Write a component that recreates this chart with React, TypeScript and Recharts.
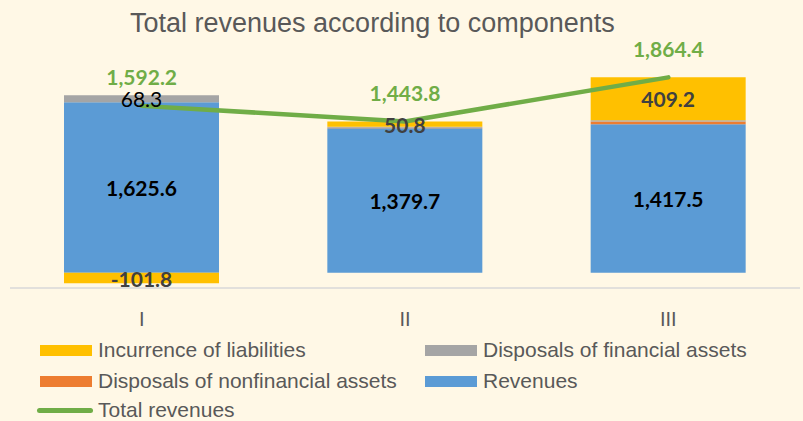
import { ComposedChart, Bar, Line, XAxis, YAxis, LabelList } from "recharts";

const categories = ["I", "II", "III"];
const revenues = [1625.6, 1379.7, 1417.5];
const nonfinancialDisposals = [0.1, 3.3, 24.6];
const financialDisposals = [68.3, 10.0, 13.1];
const liabilities = [-101.8, 50.8, 409.2];
const totalRevenues = [1592.2, 1443.8, 1864.4];

const BG = "#FFF8E6";
const TEXT = "#595959";
const COLORS = {
  liabilities: "#FFC000",
  financial: "#A5A5A5",
  nonfinancial: "#ED7D31",
  revenues: "#5B9BD5",
  total: "#70AD47",
};

const data = categories.map((name, i) => ({
  name,
  revenues: revenues[i],
  nonfinancial: nonfinancialDisposals[i],
  financial: financialDisposals[i],
  liabilities: liabilities[i],
  total: totalRevenues[i],
}));

const fmt = (v: any) =>
  Number(v).toLocaleString("en-US", { minimumFractionDigits: 1, maximumFractionDigits: 1 });

const labelFont = "Lato, 'Liberation Sans', sans-serif";

// only label the segments thick enough to hold text
function bigOnly(color: string, weight: number) {
  return (props: any) => {
    const { x, y, width, height, value } = props;
    if (Math.abs(Number(value)) < 30) return null;
    return (
      <text
        x={Number(x) + Number(width) / 2}
        y={Number(y) + Number(height) / 2}
        textAnchor="middle"
        dominantBaseline="central"
        fill={color}
        fontFamily={labelFont}
        fontWeight={weight}
        fontSize={21}
      >
        {fmt(value)}
      </text>
    );
  };
}

function totalLabel(props: any) {
  const { x, y, value } = props;
  return (
    <text
      x={x}
      y={Number(y) - 29}
      textAnchor="middle"
      dominantBaseline="central"
      fill={COLORS.total}
      fontFamily={labelFont}
      fontWeight={700}
      fontSize={21}
    >
      {fmt(value)}
    </text>
  );
}

const legendRows = [
  [
    { name: "Incurrence of liabilities", color: COLORS.liabilities },
    { name: "Disposals of financial assets", color: COLORS.financial },
  ],
  [
    { name: "Disposals of nonfinancial assets", color: COLORS.nonfinancial },
    { name: "Revenues", color: COLORS.revenues },
  ],
];

function Swatch({ color }: { color: string }) {
  return <span style={{ display: "inline-block", width: 52, height: 11, background: color, marginRight: 6 }} />;
}

const legendItemStyle = {
  position: "absolute" as const,
  height: 22,
  display: "flex",
  alignItems: "center",
  fontSize: 21,
  color: TEXT,
  whiteSpace: "nowrap" as const,
};

export default function App() {
  return (
    <div
      style={{
        position: "fixed",
        left: 0,
        top: 0,
        width: 803,
        height: 421,
        background: BG,
        fontFamily: "'Liberation Sans', Arial, sans-serif",
        overflow: "hidden",
      }}
    >
      <div
        style={{
          position: "absolute",
          left: 130,
          top: 10,
          fontSize: 27,
          lineHeight: "27px",
          color: TEXT,
          whiteSpace: "nowrap",
        }}
      >
        Total revenues according to components
      </div>

      <ComposedChart
        width={803}
        height={421}
        data={data}
        stackOffset="sign"
        margin={{ top: 60, right: 3, left: 10, bottom: 103 }}
      >
        <XAxis
          dataKey="name"
          height={30}
          axisLine={{ stroke: "#D9D9D9", strokeWidth: 1.5 }}
          tickLine={false}
          tickMargin={18}
          tick={{ fill: TEXT, fontSize: 20 }}
        />
        <YAxis hide domain={[-146, 2030]} allowDataOverflow />
        <Bar dataKey="revenues" stackId="a" fill={COLORS.revenues} barSize={155} isAnimationActive={false}>
          <LabelList dataKey="revenues" content={bigOnly("#000000", 700)} />
        </Bar>
        <Bar dataKey="nonfinancial" stackId="a" fill={COLORS.nonfinancial} barSize={155} isAnimationActive={false} />
        <Bar dataKey="financial" stackId="a" fill={COLORS.financial} barSize={155} isAnimationActive={false}>
          <LabelList dataKey="financial" content={bigOnly("#000000", 400)} />
        </Bar>
        <Bar dataKey="liabilities" stackId="a" fill={COLORS.liabilities} barSize={155} isAnimationActive={false}>
          <LabelList dataKey="liabilities" content={bigOnly("#404040", 700)} />
        </Bar>
        <Line
          dataKey="total"
          stroke={COLORS.total}
          strokeWidth={4.5}
          strokeLinecap="round"
          dot={false}
          activeDot={false}
          isAnimationActive={false}
        >
          <LabelList dataKey="total" content={totalLabel} />
        </Line>
      </ComposedChart>

      {legendRows.map((row, r) =>
        row.map((item, c) => (
          <div key={item.name} style={{ ...legendItemStyle, left: c === 0 ? 40 : 425, top: 339 + r * 31 }}>
            <Swatch color={item.color} />
            {item.name}
          </div>
        ))
      )}
      <div style={{ ...legendItemStyle, left: 37, top: 399 }}>
        <span
          style={{
            display: "inline-block",
            width: 56,
            height: 5,
            borderRadius: 3,
            background: COLORS.total,
            marginRight: 5,
          }}
        />
        Total revenues
      </div>
    </div>
  );
}
